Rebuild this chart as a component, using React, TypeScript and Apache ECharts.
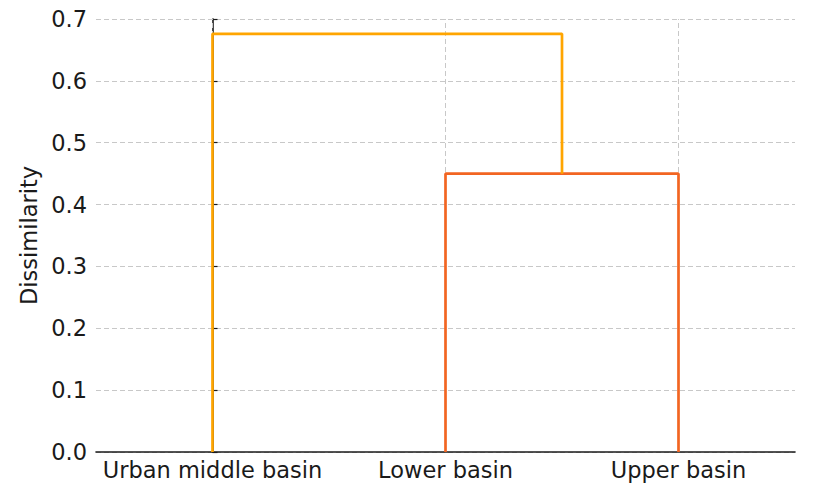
import React, { useEffect, useRef } from "react";
import * as echarts from "echarts";

const leafLabels = ["Urban middle basin", "Lower basin", "Upper basin"];
const leafPositions = [0, 1, 2];
// link 1: Lower basin + Upper basin
const link1X = [1, 1, 2, 2];
const link1Y = [0, 0.45, 0.45, 0];
// link 2: Urban middle basin + (Lower, Upper)
const link2X = [0, 0, 1.5, 1.5];
const link2Y = [0, 0.676, 0.676, 0.45];
const yTicks = [0, 0.1, 0.2, 0.3, 0.4, 0.5, 0.6, 0.7];

const FONT = "DejaVu Sans";
const FS = 22.5;
const GRID_STYLE = { color: "#c8c8c8", type: [5, 3] as number[], width: 1 };

export default function App() {
  const ref = useRef<HTMLDivElement>(null);
  useEffect(() => {
    if (!ref.current) return;
    const chart = echarts.init(ref.current, undefined, { renderer: "svg" });
    const gridSeries = leafPositions.map((p) => ({
      type: "line",
      xAxisIndex: 1,
      data: [
        [p, yTicks[0]],
        [p, yTicks[yTicks.length - 1]],
      ],
      symbol: "none",
      silent: true,
      lineStyle: GRID_STYLE,
      z: 1,
    }));
    chart.setOption({
      animation: false,
      grid: { left: 96, right: 19, top: 19, bottom: 43 },
      xAxis: [
        {
          type: "category",
          data: leafLabels,
          boundaryGap: true,
          position: "bottom",
          axisLine: { show: true, lineStyle: { color: "#1a1a1a", width: 1.6 } },
          axisTick: { show: false },
          splitLine: { show: false },
          axisLabel: { color: "#1a1a1a", fontFamily: FONT, fontSize: FS, margin: 6, interval: 0 },
        },
        {
          type: "value",
          min: -0.5,
          max: 2.5,
          show: false,
        },
      ],
      yAxis: {
        type: "value",
        min: yTicks[0],
        max: yTicks[yTicks.length - 1],
        interval: 0.1,
        name: "Dissimilarity",
        nameLocation: "middle",
        nameGap: 50,
        nameTextStyle: { color: "#1a1a1a", fontFamily: FONT, fontSize: FS },
        axisLine: { show: true, lineStyle: { color: "#1a1a1a", width: 1.6 } },
        axisTick: { show: true, inside: true, length: 5, lineStyle: { color: "#1a1a1a", width: 1.2 } },
        axisLabel: {
          color: "#1a1a1a",
          fontFamily: FONT,
          fontSize: FS,
          margin: 9,
          formatter: (v: number) => v.toFixed(1),
        },
        splitLine: { show: true, lineStyle: GRID_STYLE },
      },
      series: [
        ...gridSeries,
        {
          type: "line",
          xAxisIndex: 1,
          data: link1X.map((x, i) => [x, link1Y[i]]),
          symbol: "none",
          lineStyle: { color: "#F26522", width: 2.7 },
          z: 3,
        },
        {
          type: "line",
          xAxisIndex: 1,
          data: link2X.map((x, i) => [x, link2Y[i]]),
          symbol: "none",
          lineStyle: { color: "#FFA500", width: 2.7 },
          z: 4,
        },
      ],
    });
    return () => chart.dispose();
  }, []);
  return <div ref={ref} style={{ width: 814, height: 495, margin: -8 }} />;
}
